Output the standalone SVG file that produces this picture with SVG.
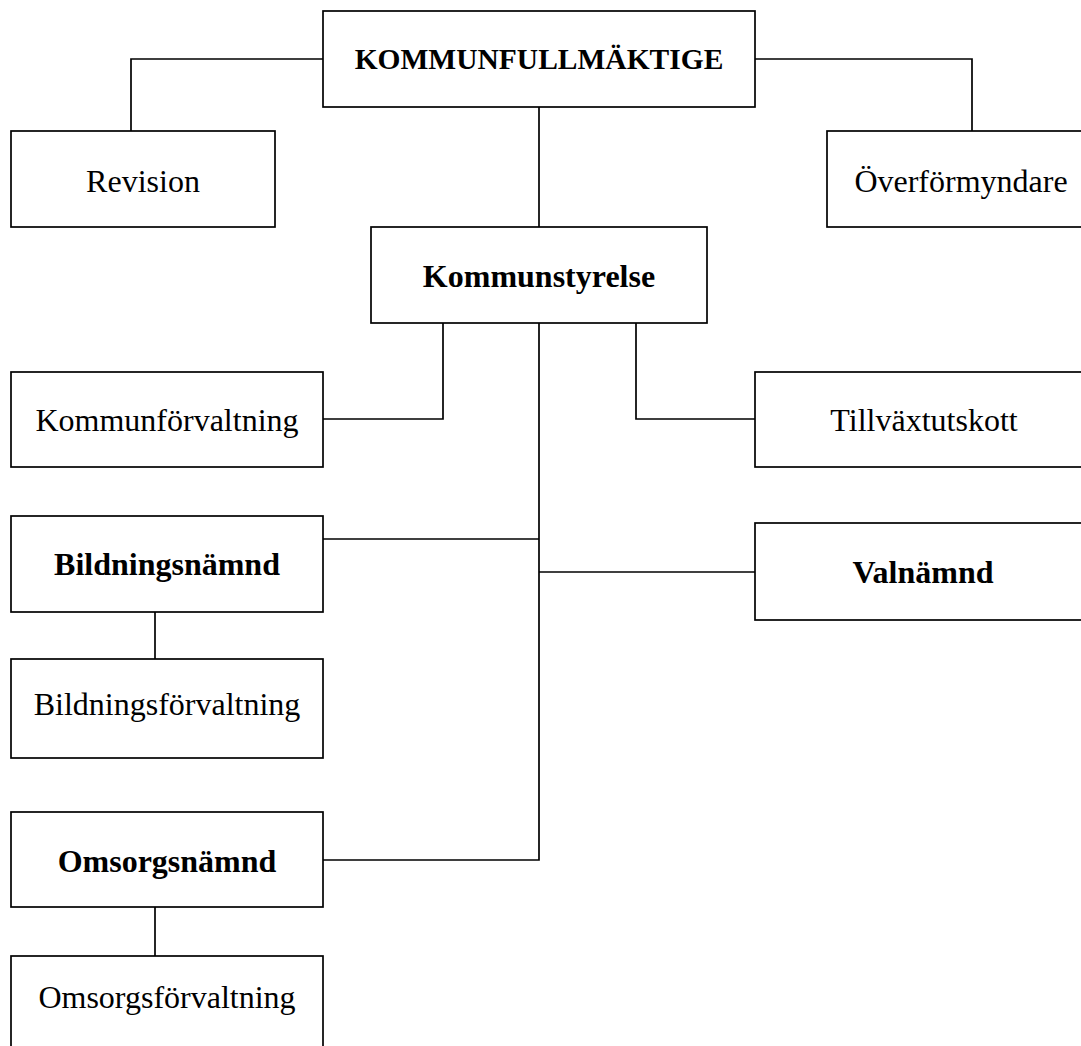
<svg xmlns="http://www.w3.org/2000/svg" width="1081" height="1046" viewBox="0 0 1081 1046">
<style>
.box{fill:#fff;stroke:#000;stroke-width:1.7}
.t{font-family:"Liberation Serif","Times New Roman",serif;font-size:32px;fill:#000;text-anchor:middle}
.b{font-weight:bold}
.c{fill:none;stroke:#000;stroke-width:1.7}
</style>
<rect width="1081" height="1046" fill="#fff"/>
<g id="connectors">
<path class="c" d="M323,59H131V131"/>
<path class="c" d="M755,59H972V131"/>
<path class="c" d="M539,107V227"/>
<path class="c" d="M443,323V419H323"/>
<path class="c" d="M636,323V419H755"/>
<path class="c" d="M539,323V860H323"/>
<path class="c" d="M323,539H539"/>
<path class="c" d="M539,572H755"/>
<path class="c" d="M155,612V659"/>
<path class="c" d="M155,907V960"/>
</g>
<g id="kommunfullmaktige"><rect class="box" x="323" y="11" width="432" height="96"/><text class="t b" x="539" y="69" style="font-size:29.5px">KOMMUNFULLMÄKTIGE</text></g>
<g id="revision"><rect class="box" x="11" y="131" width="264" height="96"/><text class="t" x="143" y="192">Revision</text></g>
<g id="overformyndare"><rect class="box" x="827" y="131" width="270" height="96"/><text class="t" x="961" y="192">Överförmyndare</text></g>
<g id="kommunstyrelse"><rect class="box" x="371" y="227" width="336" height="96"/><text class="t b" x="539" y="287">Kommunstyrelse</text></g>
<g id="kommunforvaltning"><rect class="box" x="11" y="372" width="312" height="95"/><text class="t" x="167" y="431">Kommunförvaltning</text></g>
<g id="tillvaxtutskott"><rect class="box" x="755" y="372" width="340" height="95"/><text class="t" x="924" y="431">Tillväxtutskott</text></g>
<g id="bildningsnamnd"><rect class="box" x="11" y="516" width="312" height="96"/><text class="t b" x="167" y="575">Bildningsnämnd</text></g>
<g id="valnamnd"><rect class="box" x="755" y="523" width="340" height="97"/><text class="t b" x="923" y="583">Valnämnd</text></g>
<g id="bildningsforvaltning"><rect class="box" x="11" y="659" width="312" height="99"/><text class="t" x="167" y="715">Bildningsförvaltning</text></g>
<g id="omsorgsnamnd"><rect class="box" x="11" y="812" width="312" height="95"/><text class="t b" x="167" y="872">Omsorgsnämnd</text></g>
<g id="omsorgsforvaltning"><rect class="box" x="11" y="956" width="312" height="100"/><text class="t" x="167" y="1008">Omsorgsförvaltning</text></g>
</svg>
